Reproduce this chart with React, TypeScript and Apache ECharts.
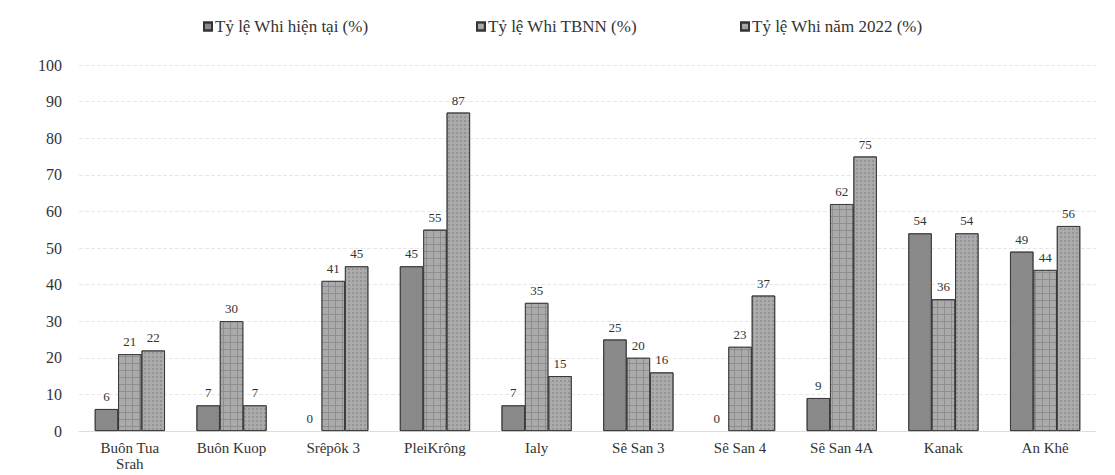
import React, { useEffect, useRef } from "react";
import * as echarts from "echarts";

const categories = [
  "Buôn Tua\nSrah",
  "Buôn Kuop",
  "Srêpôk 3",
  "PleiKrông",
  "Ialy",
  "Sê San 3",
  "Sê San 4",
  "Sê San 4A",
  "Kanak",
  "An Khê",
];
const seriesNames = [
  "Tỷ lệ Whi hiện tại (%)",
  "Tỷ lệ Whi TBNN (%)",
  "Tỷ lệ Whi năm 2022 (%)",
];
const whiCurrent = [6, 7, 0, 45, 7, 25, 0, 9, 54, 49];
const whiAverage = [21, 30, 41, 55, 35, 20, 23, 62, 36, 44];
const whi2022 = [22, 7, 45, 87, 15, 16, 37, 75, 54, 56];
const yTicks = { min: 0, max: 100, interval: 10 };

const FONT = "'Liberation Serif', 'DejaVu Serif', serif";

export default function App() {
  const ref = useRef<HTMLDivElement>(null);
  useEffect(() => {
    const chart = echarts.init(ref.current!, null, { renderer: "svg" });
    const label = {
      show: true,
      position: "top" as const,
      distance: 6,
      color: "#333",
      fontFamily: FONT,
      fontSize: 13,
    };
    const mk = (name: string, data: number[], color: string, decal: any) => ({
      name,
      type: "bar",
      data: data.map((v) =>
        v === 0 ? { value: v, itemStyle: { borderWidth: 0 } } : v
      ),
      barGap: "0%",
      barCategoryGap: "31%",
      label,
      itemStyle: { color, borderColor: "#333", borderWidth: 0.8, decal },
    });
    const legendAt = (i: number, left: number) => ({
      top: 13,
      left,
      itemWidth: 8,
      itemHeight: 8,
      itemGap: 4,
      icon: "rect",
      textStyle: { fontFamily: FONT, fontSize: 17, color: "#333", padding: [0, 0, 0, -2] },
      data: [seriesNames[i]],
    });
    chart.setOption({
      animation: false,
      backgroundColor: "#fff",
      aria: { enabled: false, decal: { show: true } },
      legend: [legendAt(0, 198), legendAt(1, 471), legendAt(2, 735)],
      grid: { left: 79, right: 19, top: 65, bottom: 44 },
      xAxis: {
        type: "category",
        data: categories,
        axisLine: { show: true, lineStyle: { color: "#ddd" } },
        axisTick: { show: false },
        axisLabel: {
          fontFamily: FONT,
          fontSize: 15,
          color: "#333",
          margin: 9,
          lineHeight: 16,
        },
      },
      yAxis: {
        type: "value",
        min: yTicks.min,
        max: yTicks.max,
        interval: yTicks.interval,
        axisLine: { show: false },
        axisTick: { show: false },
        splitLine: { lineStyle: { color: "#e8e8e8", type: "dashed" } },
        axisLabel: {
          fontFamily: FONT,
          fontSize: 16,
          color: "#333",
          margin: 17,
        },
      },
      series: [
        mk(seriesNames[0], whiCurrent, "#8a8a8a", {
          symbol: "rect",
          symbolSize: 0.5,
          dashArrayX: [2, 2],
          dashArrayY: [2, 2],
          color: "rgba(0,0,0,0.06)",
        }),
        mk(seriesNames[1], whiAverage, "#8e8e8e", {
          symbol: "rect",
          symbolSize: 1,
          dashArrayX: [6, 1],
          dashArrayY: [6, 1],
          color: "rgba(255,255,255,0.25)",
        }),
        mk(seriesNames[2], whi2022, "#ababab", {
          symbol: "rect",
          symbolSize: 1,
          dashArrayX: [2, 2],
          dashArrayY: [2, 2],
          color: "rgba(80,80,80,0.25)",
        }),
      ],
    });
    return () => chart.dispose();
  }, []);
  return (
    <div
      ref={ref}
      style={{ position: "fixed", left: 0, top: 0, width: 1115, height: 475 }}
    />
  );
}
